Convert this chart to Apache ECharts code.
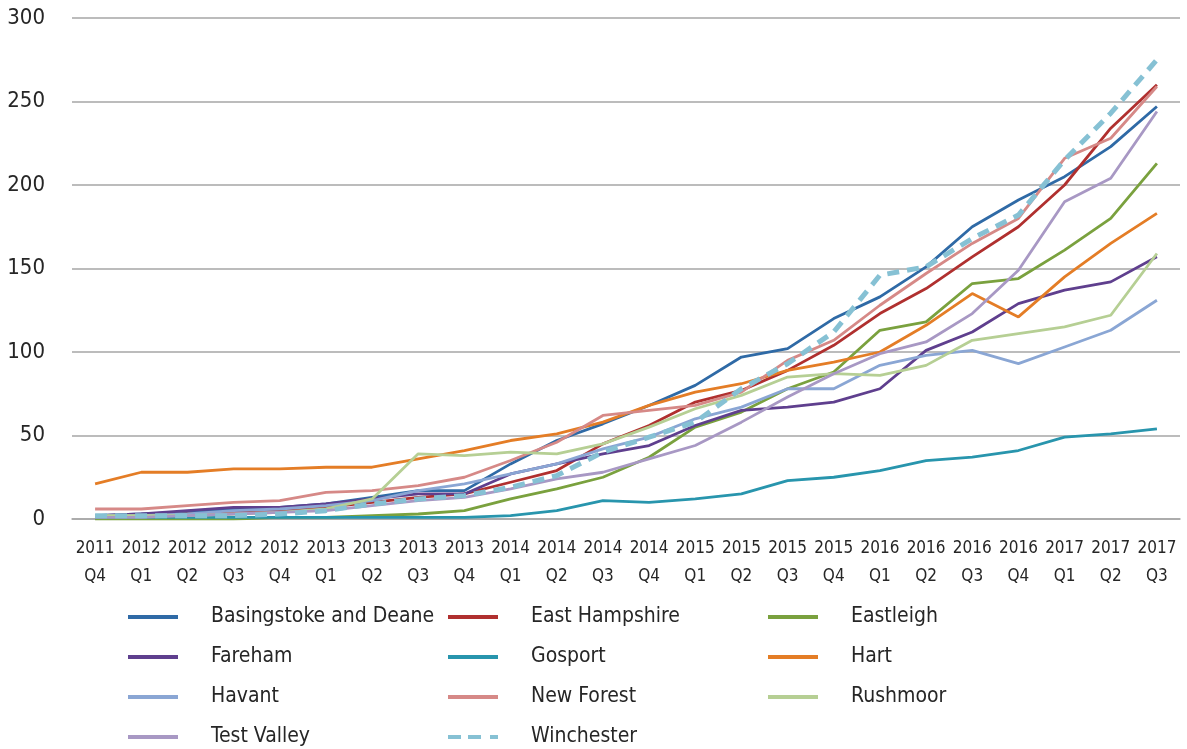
<!DOCTYPE html>
<html>
<head>
<meta charset="utf-8">
<script src="https://cdn.jsdelivr.net/npm/echarts@6/dist/echarts.min.js"></script>
<style>
  html, body { margin: 0; padding: 0; background: #fff; }
  #chart { width: 1187px; height: 749px; }
</style>
</head>
<body>
<div id="chart"></div>
<script>
// Quarter labels
const quarters = [
  '2011\nQ4', '2012\nQ1', '2012\nQ2', '2012\nQ3', '2012\nQ4', '2013\nQ1', '2013\nQ2', '2013\nQ3',
  '2013\nQ4', '2014\nQ1', '2014\nQ2', '2014\nQ3', '2014\nQ4', '2015\nQ1', '2015\nQ2', '2015\nQ3',
  '2015\nQ4', '2016\nQ1', '2016\nQ2', '2016\nQ3', '2016\nQ4', '2017\nQ1', '2017\nQ2', '2017\nQ3'
];

// Values
const basingstoke = [2, 3, 4, 6, 7, 9, 13, 17, 17, 33, 47, 57, 68, 80, 97, 102, 120, 133, 151, 175, 191, 205, 223, 247];
const eastHampshire = [1, 2, 3, 4, 5, 7, 10, 13, 15, 22, 29, 45, 56, 70, 77, 89, 104, 123, 138, 157, 175, 200, 234, 260];
const eastleigh = [0, 0, 0, 0, 1, 1, 2, 3, 5, 12, 18, 25, 37, 55, 64, 78, 88, 113, 118, 141, 144, 161, 180, 213];
const fareham = [2, 3, 5, 7, 7, 9, 12, 15, 15, 27, 33, 39, 44, 56, 65, 67, 70, 78, 101, 112, 129, 137, 142, 157];
const gosport = [1, 1, 1, 1, 1, 1, 1, 1, 1, 2, 5, 11, 10, 12, 15, 23, 25, 29, 35, 37, 41, 49, 51, 54];
const hart = [21, 28, 28, 30, 30, 31, 31, 36, 41, 47, 51, 58, 68, 76, 81, 89, 94, 100, 116, 135, 121, 145, 165, 183];
const havant = [2, 2, 3, 5, 6, 8, 11, 17, 21, 27, 33, 42, 49, 60, 67, 78, 78, 92, 98, 101, 93, 103, 113, 131];
const newForest = [6, 6, 8, 10, 11, 16, 17, 20, 25, 35, 46, 62, 65, 68, 76, 95, 107, 128, 147, 165, 180, 216, 228, 259];
const rushmoor = [2, 2, 2, 3, 4, 6, 12, 39, 38, 40, 39, 45, 55, 66, 74, 85, 87, 86, 92, 107, 111, 115, 122, 159];
const testValley = [1, 1, 2, 3, 4, 5, 8, 11, 13, 18, 24, 28, 36, 44, 58, 73, 87, 99, 106, 123, 149, 190, 204, 244];
const winchester = [2, 2, 2, 2, 3, 5, 9, 12, 14, 19, 26, 40, 49, 58, 78, 93, 112, 146, 151, 168, 182, 215, 243, 275];

const FONT = "'DejaVu Sans Condensed', 'Liberation Sans Narrow', sans-serif";

// legend icons: a solid bar, and a dash-dash-dot bar for Winchester
const SOLID_ICON = 'path://M0,0L50,0L50,4L0,4Z';
const DASH_ICON = 'path://M0,0h13v4h-13z M20,0h13v4h-13z M42,0h8v4h-8z';

const seriesDefs = [
  { name: 'Basingstoke and Deane', data: basingstoke, color: '#2f6aa6' },
  { name: 'East Hampshire', data: eastHampshire, color: '#b0302f' },
  { name: 'Eastleigh', data: eastleigh, color: '#7aa13e' },
  { name: 'Fareham', data: fareham, color: '#5f3f8e' },
  { name: 'Gosport', data: gosport, color: '#2895ad' },
  { name: 'Hart', data: hart, color: '#e47d26' },
  { name: 'Havant', data: havant, color: '#8aa6d4' },
  { name: 'New Forest', data: newForest, color: '#d68987' },
  { name: 'Rushmoor', data: rushmoor, color: '#b6cf94' },
  { name: 'Test Valley', data: testValley, color: '#a898c4' },
  { name: 'Winchester', data: winchester, color: '#86c1d4', dashed: true }
];

const chart = echarts.init(document.getElementById('chart'));

chart.setOption({
  animation: false,
  textStyle: { fontFamily: FONT },
  grid: { left: 72, right: 7, top: 18, bottom: 230 },
  xAxis: {
    type: 'category',
    data: quarters,
    boundaryGap: true,
    axisLine: { lineStyle: { color: '#a6a6a6', width: 1.5 } },
    axisTick: { show: false },
    axisLabel: { color: '#262626', fontSize: 17, lineHeight: 28, margin: 16, interval: 0, fontFamily: FONT }
  },
  yAxis: {
    type: 'value',
    min: 0,
    max: 300,
    interval: 50,
    axisLine: { show: false },
    axisTick: { show: false },
    splitLine: { lineStyle: { color: '#a6a6a6', width: 1.5 } },
    axisLabel: { color: '#262626', fontSize: 22, margin: 27, fontFamily: FONT }
  },
  legend: {
    left: 128,
    top: 597,
    width: 975,
    padding: 0,
    itemWidth: 50,
    itemHeight: 4,
    itemGap: 0,
    textStyle: { color: '#262626', fontSize: 21, width: 237, lineHeight: 40, padding: [0, 0, 0, 28], fontFamily: FONT },
    data: seriesDefs.map((s) => ({ name: s.name, icon: s.dashed ? DASH_ICON : SOLID_ICON }))
  },
  series: seriesDefs.map((s) => ({
    type: 'line',
    name: s.name,
    data: s.data,
    symbol: 'none',
    color: s.color,
    lineStyle: s.dashed
      ? { color: s.color, width: 5, type: [12, 8] }
      : { color: s.color, width: 2.8 }
  }))
});
</script>
</body>
</html>
